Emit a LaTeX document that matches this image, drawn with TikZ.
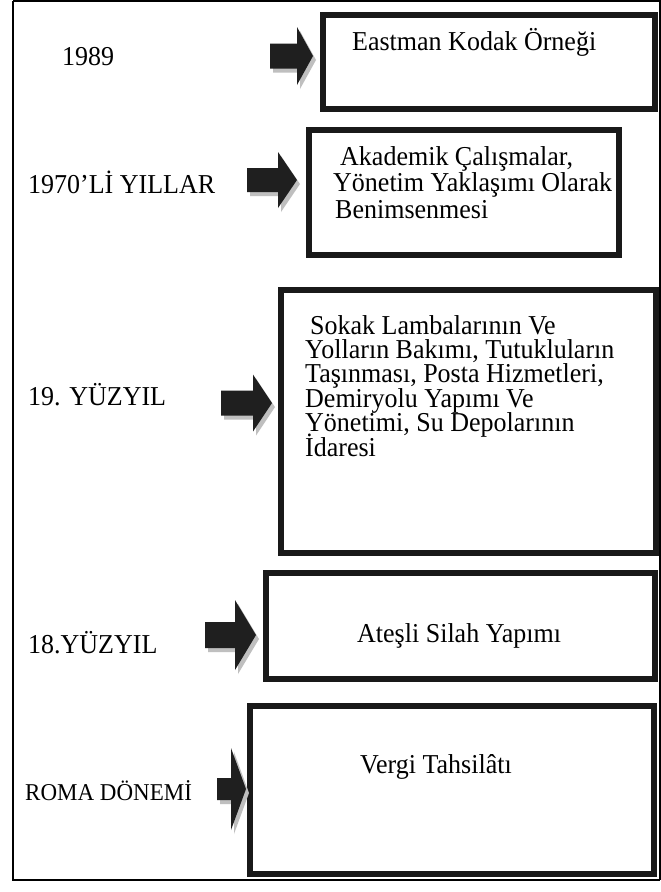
\documentclass[tikz,border=0pt]{standalone}
\usepackage{fontspec}
\setmainfont{Liberation Serif}
\newcommand\tall[1]{\scalebox{1}[1.05]{#1}}
\newcommand\fixedlines[2]{\vtop{\baselineskip=#1\lineskiplimit=-100pt\lineskip=0pt #2}}
\begin{document}
\begin{tikzpicture}[x=1pt,y=-1pt,
  txt/.style={anchor=base west,inner sep=0pt,font=\fontsize{26}{27}\selectfont},
  smalltxt/.style={anchor=base west,inner sep=0pt,font=\fontsize{23}{24}\selectfont},
  boxframe/.style={draw=black!90,line width=6pt,fill=white},
  shadowfill/.style={fill=black!25,draw=none},
  arrowfill/.style={fill=black!88,draw=none}]
\useasboundingbox (0,0) rectangle (661,892);
\fill[white] (0,0) rectangle (661,892);
% outer frame
\draw[line width=2pt] (13,1) -- (13,880) -- (660,880);
\draw[line width=2pt] (13,1) -- (660,1) -- (660,880);
% block arrow macro: x-start, x-headbase, x-tip, y-center, shaft half, head half
\newcommand\myblockarrow[6]{%
  \fill[shadowfill] ({#1+3},{#4-#5+4}) -- ({#2+3},{#4-#5+4}) -- ({#2+3},{#4-#6+4}) -- ({#3+3},{#4+4}) -- ({#2+3},{#4+#6+4}) -- ({#2+3},{#4+#5+4}) -- ({#1+3},{#4+#5+4}) -- cycle;
  \fill[arrowfill] (#1,{#4-#5}) -- (#2,{#4-#5}) -- (#2,{#4-#6}) -- (#3,#4) -- (#2,{#4+#6}) -- (#2,{#4+#5}) -- (#1,{#4+#5}) -- cycle;}
% boxes
\node[boxframe,minimum width=332pt,minimum height=94pt,inner sep=0pt] (b1) at (489,62) {};
\node[boxframe,minimum width=310pt,minimum height=125pt,inner sep=0pt] (b2) at (464,192.5) {};
\node[boxframe,minimum width=375pt,minimum height=263pt,inner sep=0pt] (b3) at (468.5,421.5) {};
\node[boxframe,minimum width=389pt,minimum height=106pt,inner sep=0pt] (b4) at (460.5,626) {};
\node[boxframe,minimum width=404pt,minimum height=168pt,inner sep=0pt] (b5) at (452,790) {};
% arrows
\myblockarrow{270}{297}{313}{56}{12.5}{29}
\myblockarrow{247}{278}{297}{180}{12}{28}
\myblockarrow{221}{253}{272}{403}{12.5}{28.5}
\myblockarrow{205}{235}{256}{635}{13}{35}
\myblockarrow{217}{231}{246}{789}{11}{41}
% left labels
\node[txt] (l1) at (62,65) {\tall{1989}};
\node[txt] (l2) at (28,193) {\tall{1970’Lİ YILLAR}};
\node[txt] (l3) at (28,405) {\tall{19. YÜZYIL}};
\node[txt] (l4) at (28,653) {\tall{18.YÜZYIL}};
\node[smalltxt] (l5) at (25,800) {\tall{ROMA DÖNEMİ}};
% box texts
\node[txt] (t1) at (352,50) {\tall{Eastman Kodak Örneği}};
\node[txt] (t2) at (333,165) {\fixedlines{26.8pt}{%
  \hbox{\hspace{7pt}\tall{Akademik Çalışmalar,}}%
  \hbox{\tall{Yönetim Yaklaşımı Olarak}}%
  \hbox{\hspace{2pt}\tall{Benimsenmesi}}}};
\node[txt] (t3) at (305,334) {\fixedlines{24.4pt}{%
  \hbox{\hspace{5pt}\tall{Sokak Lambalarının Ve}}%
  \hbox{\tall{Yolların Bakımı, Tutukluların}}%
  \hbox{\tall{Taşınması, Posta Hizmetleri,}}%
  \hbox{\tall{Demiryolu Yapımı Ve}}%
  \hbox{\tall{Yönetimi, Su Depolarının}}%
  \hbox{\tall{İdaresi}}}};
\node[txt] (t4) at (357,642) {\tall{Ateşli Silah Yapımı}};
\node[txt] (t5) at (360,773) {\tall{Vergi Tahsilâtı}};
\end{tikzpicture}
\end{document}
